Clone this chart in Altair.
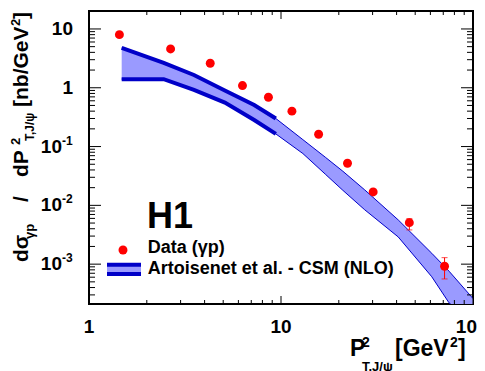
import altair as alt
import pandas as pd

# ---- measured data (H1 photoproduction, J/psi) ----
data_x = [1.44, 2.66, 4.28, 6.3, 8.6, 11.4, 15.7, 22.2, 30.2, 46.6, 71.1]
data_y = [8.0, 4.57, 2.61, 1.09, 0.69, 0.40, 0.162, 0.052, 0.0169, 0.00508, 0.00092]
data_lo = [7.4, 4.25, 2.43, 1.01, 0.64, 0.37, 0.150, 0.048, 0.0155, 0.00382, 0.00056]
data_hi = [8.6, 4.9, 2.8, 1.17, 0.74, 0.43, 0.174, 0.056, 0.0183, 0.00594, 0.00129]

# ---- theory band (Artoisenet et al. CSM NLO) ----
band_x = [1.48, 2.45, 3.52, 5.1, 7.25, 9.4, 13, 17, 21, 27.3, 40.8, 61, 75, 100]
band_hi = [4.75, 2.64, 1.65, 0.90, 0.51, 0.30, 0.131, 0.066, 0.038, 0.0183, 0.00565, 0.00153, 0.00076, 0.00026]
band_lo = [1.40, 1.40, 0.918, 0.56, 0.283, 0.164, 0.076, 0.034, 0.018, 0.0084, 0.0029, 0.00061, 0.00022, 0.0001]
n_thick = 6  # first points drawn with thick edge lines

# ---- axes ----
x_domain = [1, 100]
y_domain = [2.1e-4, 20.2]
x_major = [1, 10, 100]
y_major = [0.001, 0.01, 0.1, 1, 10]
x_minor = [k * d for d in [1, 10] for k in range(2, 10)]
y_minor = [k * 10.0 ** e for e in range(-4, 2) for k in range(2, 10)
           if y_domain[0] <= k * 10.0 ** e <= y_domain[1]]
x_lab_vals = [1, 10]
x_lab_text = ["1", "10"]
y_lab_vals = [10, 1]
y_lab_text = ["10", "1"]
y_exp_vals = [0.1, 0.01, 0.001]
y_exp_text = ["-1", "-2", "-3"]

W, H = 384, 293
FONT = "Liberation Sans"
BAND_FILL = "#9a9aff"
BAND_LINE = "#0000c8"

xs = alt.Scale(type="log", domain=x_domain, nice=False)
ys = alt.Scale(type="log", domain=y_domain, nice=False)

band = pd.DataFrame({"x": band_x, "hi": band_hi, "lo": band_lo})
thick = band.iloc[:n_thick]
pts = pd.DataFrame({"x": data_x, "y": data_y, "lo": data_lo, "hi": data_hi})

X = lambda f="x": alt.X(f"{f}:Q", scale=xs, axis=None)
Y = lambda f: alt.Y(f"{f}:Q", scale=ys, axis=None)

layers = []
layers.append(alt.Chart(band).mark_area(color=BAND_FILL, clip=True, opacity=1)
              .encode(x=X(), y=Y("hi"), y2="lo:Q"))
for f in ["hi", "lo"]:
    layers.append(alt.Chart(band).mark_line(color=BAND_LINE, strokeWidth=1, clip=True)
                  .encode(x=X(), y=Y(f)))
    layers.append(alt.Chart(thick).mark_line(color=BAND_LINE, strokeWidth=4, clip=True)
                  .encode(x=X(), y=Y(f)))

layers.append(alt.Chart(pts).mark_rule(color="red", strokeWidth=1)
              .encode(x=X(), y=Y("lo"), y2="hi:Q"))
for f in ["lo", "hi"]:
    layers.append(alt.Chart(pts).mark_tick(color="red", orient="horizontal", size=6, thickness=1)
                  .encode(x=X(), y=Y(f)))
layers.append(alt.Chart(pts).mark_circle(color="red", size=80, opacity=1)
              .encode(x=X(), y=Y("y")))

# ticks (inward, on all four sides)
def yticks(vals, L):
    df = pd.DataFrame({"v": vals})
    return [alt.Chart(df).mark_rule(color="black", strokeWidth=1)
            .encode(y=Y("v"), x=alt.value(0), x2=alt.value(L)),
            alt.Chart(df).mark_rule(color="black", strokeWidth=1)
            .encode(y=Y("v"), x=alt.value(W - L), x2=alt.value(W))]

def xticks(vals, L):
    df = pd.DataFrame({"v": vals})
    return [alt.Chart(df).mark_rule(color="black", strokeWidth=1)
            .encode(x=X("v"), y=alt.value(H - L), y2=alt.value(H)),
            alt.Chart(df).mark_rule(color="black", strokeWidth=1)
            .encode(x=X("v"), y=alt.value(0), y2=alt.value(L))]

layers += yticks(y_major, 12) + yticks(y_minor, 6) + xticks(x_major, 8) + xticks(x_minor, 4)

# tick labels
def tstyle(size, align="left", baseline="middle", angle=0, **kw):
    return dict(font=FONT, fontWeight="bold", fontSize=size, align=align,
                baseline=baseline, angle=angle, color="black", **kw)

layers.append(alt.Chart(pd.DataFrame({"v": y_lab_vals, "t": y_lab_text}))
              .mark_text(**tstyle(19, align="right"))
              .encode(y=Y("v"), x=alt.value(-16), text="t:N"))
layers.append(alt.Chart(pd.DataFrame({"v": y_exp_vals, "t": ["10"] * 3}))
              .mark_text(**tstyle(19, align="right"))
              .encode(y=Y("v"), x=alt.value(-27), text="t:N"))
layers.append(alt.Chart(pd.DataFrame({"v": y_exp_vals, "t": y_exp_text}))
              .mark_text(**tstyle(12, align="left", dy=-6))
              .encode(y=Y("v"), x=alt.value(-27), text="t:N"))
layers.append(alt.Chart(pd.DataFrame({"v": x_lab_vals, "t": x_lab_text}))
              .mark_text(**tstyle(19, align="center"))
              .encode(x=X("v"), y=alt.value(316), text="t:N"))
layers.append(alt.Chart(pd.DataFrame({"v": [100], "t": ["10"]}))
              .mark_text(**tstyle(19, align="right", dx=4))
              .encode(x=X("v"), y=alt.value(316), text="t:N"))
layers.append(alt.Chart(pd.DataFrame({"v": [100], "t": ["2"]}))
              .mark_text(**tstyle(12, align="left", dx=4, dy=-6))
              .encode(x=X("v"), y=alt.value(316), text="t:N"))

# free text helper
def txt(s, x, y, size, angle=0, align="left", baseline="alphabetic"):
    return (alt.Chart(pd.DataFrame({"t": [s]}))
            .mark_text(**tstyle(size, align=align, baseline=baseline, angle=angle))
            .encode(x=alt.value(x), y=alt.value(y), text="t:N"))

# y-axis title (rotated, reads bottom to top)
BX = -61       # main baseline
layers += [
    txt("dσ", BX, 251, 21, angle=270),
    txt("γp", BX + 5.5, 228, 13, angle=270),
    txt("/", BX, 191, 21, angle=270),
    txt("dP", BX, 166, 21, angle=270),
    txt("2", BX - 8.5, 134, 13, angle=270),
    txt("T,J/ψ", BX + 5.5, 130, 12, angle=270),
    txt("[nb/GeV", BX, 96, 21, angle=270),
    txt("2", BX - 8.5, 15, 13, angle=270),
    txt("]", BX, 8, 21, angle=270),
]
# x-axis title
layers += [
    txt("P", 261, 345, 23),
    txt("2", 273, 336, 14),
    txt("T,J/ψ", 273, 360, 13),
    txt("[GeV", 306, 345, 23),
    txt("2", 361, 336, 14),
    txt("]", 369, 345, 23),
]

# H1 label and legend
layers += [
    txt("H1", 58, 217, 36),
    txt("Data (γp)", 58.7, 237, 18, baseline="middle"),
    txt("Artoisenet et al. - CSM (NLO)", 58.7, 258, 18, baseline="middle"),
]
one = pd.DataFrame({"a": [0]})
layers.append(alt.Chart(one).mark_circle(color="red", size=80, opacity=1)
              .encode(x=alt.value(34), y=alt.value(239)))
layers.append(alt.Chart(one).mark_rect(color=BAND_LINE)
              .encode(x=alt.value(18), x2=alt.value(52), y=alt.value(251.7), y2=alt.value(265)))
layers.append(alt.Chart(one).mark_rect(color=BAND_FILL)
              .encode(x=alt.value(18), x2=alt.value(52), y=alt.value(255.7), y2=alt.value(260.9)))

chart = (alt.layer(*layers)
         .properties(width=W, height=H, autosize="none",
                     padding={"left": 81, "top": 3, "right": 4, "bottom": 67})
         .configure_view(stroke="black", strokeWidth=2))

chart.save("out.html", embed_options={"renderer": "svg", "actions": False})
